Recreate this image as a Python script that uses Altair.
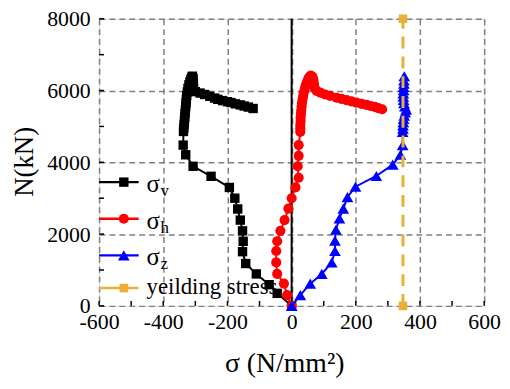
import altair as alt
import pandas as pd

# sigma_v (black squares)
SV_X = [0, -45, -70, -110, -143, -153, -151, -153, -160, -168, -177, -194, -251, -307, -330, -338,
        -337, -336, -335, -334, -333, -332, -331, -330, -329, -328, -327, -325, -323, -320, -317, -314, -311, -309, -307, -306, -306,
        -300, -285, -271, -255, -240, -230, -215, -200, -189, -175, -160, -148, -135, -120]
SV_Y = [0, 350, 590, 890, 1180, 1510, 1800, 2090, 2390, 2700, 3000, 3300, 3610, 3890, 4210, 4480,
        4860, 4960, 5060, 5160, 5260, 5360, 5460, 5560, 5660, 5760, 5860, 5960, 6060, 6160, 6240, 6310, 6370, 6400, 6330, 6200, 6080,
        5970, 5930, 5890, 5840, 5790, 5755, 5720, 5690, 5665, 5630, 5600, 5570, 5540, 5500]

# sigma_h (red circles)
SH_X = [0, -14, -24, -45, -48, -48, -45, -35, -22, -10, 0, 12, 22, 19, 22, 22,
        27, 27, 27, 28, 28, 29, 30, 31, 32, 34, 36, 38, 41, 44, 48, 52, 56, 60, 65, 68, 70, 72,
        78, 90, 104, 120, 140, 155, 171, 186, 202, 218, 233, 246, 259, 270, 282]
SH_Y = [0, 300, 620, 890, 1210, 1530, 1800, 2090, 2390, 2710, 3000, 3300, 3570, 3890, 4180, 4480,
        4850, 4950, 5050, 5150, 5250, 5350, 5450, 5550, 5650, 5750, 5850, 5950, 6050, 6150, 6250, 6330, 6390, 6420, 6380, 6290, 6180, 6070,
        5990, 5940, 5890, 5850, 5800, 5770, 5735, 5700, 5665, 5630, 5600, 5570, 5545, 5510, 5480]

# sigma_z (blue triangles)
SZ_X = [0, 27, 58, 94, 125, 135, 135, 138, 149, 161, 174, 199, 264, 315, 339, 346,
        346, 347, 347, 348, 349, 351, 354, 357, 353, 350, 349, 348, 348, 349, 349, 350, 350, 351]
SZ_Y = [0, 300, 620, 890, 1210, 1530, 1820, 2120, 2435, 2710, 3030, 3320, 3620, 3935, 4210, 4480,
        4850, 4940, 5030, 5120, 5210, 5300, 5390, 5470, 5560, 5650, 5740, 5830, 5920, 6010, 6100, 6190, 6280, 6400]

# yielding stress
YIELD_X = [347, 347]
YIELD_Y = [0, 8000]

X_GRID = [-600, -400, -200, 0, 200, 400, 600]
Y_GRID = [0, 2000, 4000, 6000, 8000]
X_TICKS = [-600, -500, -400, -300, -200, -100, 0, 100, 200, 300, 400, 500, 600]
Y_TICKS = [0, 1000, 2000, 3000, 4000, 5000, 6000, 7000, 8000]

LEGEND_NAMES = ["σ", "σ", "σ", "yeilding stress"]
LEGEND_SUBS = ["v", "h", "z", ""]

BLACK = "#000000"
RED = "#FF0000"
BLUE = "#0000FF"
ORANGE = "#E8B034"
FONT = "serif"

W, H = 389, 290

X_SCALE = alt.Scale(domain=[-600, 600], nice=False, zero=False)
Y_SCALE = alt.Scale(domain=[0, 8000], nice=False, zero=False)

x_axis = alt.Axis(values=X_GRID, grid=True, gridColor="#808080", gridDash=[6, 4], gridWidth=1.5,
                  ticks=False, domain=False, labelFont=FONT, labelFontSize=22, labelColor="black",
                  labelPadding=6, labelExpr="'' + datum.value", labelFlush=False, labelOverlap=False,
                  title="σ (N/mm²)", titleFont=FONT, titleFontSize=28, titleFontWeight="normal",
                  titleColor="black", titleX=187, titleY=58, titleBaseline="middle", titleAlign="center")
y_axis = alt.Axis(values=Y_GRID, grid=True, gridColor="#808080", gridDash=[6, 4], gridWidth=1.5,
                  ticks=False, domain=False, labelFont=FONT, labelFontSize=22, labelColor="black",
                  labelPadding=9, labelExpr="'' + datum.value", labelFlush=False, labelOverlap=False,
                  title="N(kN)", titleFont=FONT, titleFontSize=27, titleFontWeight="normal",
                  titleColor="black", titleX=-75, titleY=144, titleBaseline="middle", titleAlign="center",
                  titleAngle=270)


def df(xs, ys):
    return pd.DataFrame({"x": xs, "y": ys, "i": list(range(len(xs)))})


def X(f="x"):
    return alt.X(f + ":Q", scale=X_SCALE, axis=x_axis)


def Y(f="y"):
    return alt.Y(f + ":Q", scale=Y_SCALE, axis=y_axis)


layers = []

# inward ticks
layers.append(alt.Chart(pd.DataFrame({"t": X_TICKS})).mark_rule(color="black", strokeWidth=1.5)
              .encode(x=X("t"), y=alt.value(H), y2=alt.value(H - 5)))
layers.append(alt.Chart(pd.DataFrame({"t": Y_TICKS})).mark_rule(color="black", strokeWidth=1.5)
              .encode(y=Y("t"), x=alt.value(0), x2=alt.value(5)))

# zero line
layers.append(alt.Chart(pd.DataFrame({"x": [0]})).mark_rule(color="black", strokeWidth=2)
              .encode(x=X()))

# legend drawn by hand (subscripts)
LEG_Y = [165, 202, 239, 272]
LEG_COLORS = [BLACK, RED, BLUE, ORANGE]
LEG_SHAPES = ["square", "circle", "triangle-up", "square"]
LEG_SIZES = [90, 105, 140, 75]
for k in range(4):
    ly = LEG_Y[k]
    if LEGEND_SUBS[k]:
        layers.append(alt.Chart(pd.DataFrame({"a": [0]})).mark_text(text=LEGEND_NAMES[k], font=FONT, fontSize=25,
                                                                     align="left", baseline="alphabetic", color="black")
                      .encode(x=alt.value(48), y=alt.value(ly + 10)))
        layers.append(alt.Chart(pd.DataFrame({"a": [0]})).mark_text(text=LEGEND_SUBS[k], font=FONT, fontSize=17,
                                                                     align="left", baseline="alphabetic", color="black")
                      .encode(x=alt.value(62), y=alt.value(ly + 14)))
    else:
        layers.append(alt.Chart(pd.DataFrame({"a": [0]})).mark_text(text=LEGEND_NAMES[k], font=FONT, fontSize=23,
                                                                     align="left", baseline="alphabetic", color="black")
                      .encode(x=alt.value(48), y=alt.value(ly + 6)))


def series(xs, ys, color, shape, size):
    d = df(xs, ys)
    line = alt.Chart(d).mark_line(color=color, strokeWidth=2).encode(
        x=X(), y=Y(), order=alt.Order("i:Q"))
    pts = alt.Chart(d).mark_point(color=color, shape=shape, filled=True, size=size, opacity=1).encode(
        x=X(), y=Y())
    return [line, pts]


layers += series(SV_X, SV_Y, BLACK, "square", 90)
layers += series(SH_X, SH_Y, RED, "circle", 105)
layers += series(SZ_X, SZ_Y, BLUE, "triangle-up", 140)

yd = df(YIELD_X, YIELD_Y)
layers.append(alt.Chart(yd).mark_line(color=ORANGE, strokeWidth=3, strokeDash=[12, 8])
              .encode(x=X(), y=Y(), order=alt.Order("i:Q")))
layers.append(alt.Chart(yd).mark_point(color=ORANGE, shape="square", filled=True, size=75, opacity=1)
              .encode(x=X(), y=Y()))

# legend symbols
for k in range(4):
    ly = LEG_Y[k]
    c = LEG_COLORS[k]
    layers.append(alt.Chart(pd.DataFrame({"a": [0]})).mark_rule(color=c, strokeWidth=2.5)
                  .encode(x=alt.value(0), x2=alt.value(40), y=alt.value(ly)))
    layers.append(alt.Chart(pd.DataFrame({"a": [0]})).mark_point(color=c, shape=LEG_SHAPES[k], filled=True,
                                                                  size=LEG_SIZES[k], opacity=1)
                  .encode(x=alt.value(25), y=alt.value(ly)))

chart = alt.layer(*layers).properties(
    width=W, height=H,
    autosize=alt.AutoSizeParams(type="none"),
    padding={"left": 92, "top": 9, "right": 18, "bottom": 74},
).configure_view(stroke="black", strokeWidth=2).configure(background="white")

chart.save("out.html", embed_options={"renderer": "svg", "actions": False})
